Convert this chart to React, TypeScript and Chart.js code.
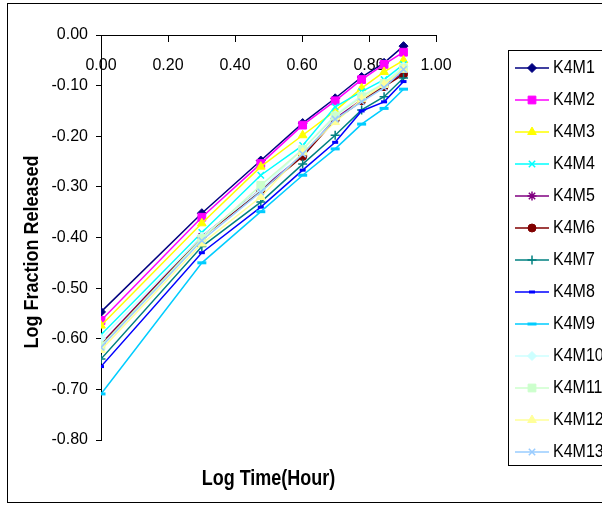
import { useEffect, useRef } from 'react';
import { Chart, registerables, PointElement } from 'chart.js';

Chart.register(...registerables);

const logTime = [0, 0.301, 0.477, 0.602, 0.699, 0.778, 0.845, 0.903];
const seriesNames = ['K4M1', 'K4M2', 'K4M3', 'K4M4', 'K4M5', 'K4M6', 'K4M7', 'K4M8', 'K4M9', 'K4M10', 'K4M11', 'K4M12', 'K4M13'];

const k4m1 = [-0.547, -0.352, -0.248, -0.174, -0.125, -0.083, -0.055, -0.022];
const k4m2 = [-0.564, -0.360, -0.254, -0.178, -0.130, -0.088, -0.058, -0.034];
const k4m3 = [-0.574, -0.372, -0.260, -0.198, -0.150, -0.105, -0.073, -0.050];
const k4m4 = [-0.592, -0.390, -0.277, -0.218, -0.142, -0.112, -0.088, -0.058];
const k4m5 = [-0.610, -0.398, -0.305, -0.238, -0.165, -0.128, -0.100, -0.075];
const k4m6 = [-0.612, -0.400, -0.308, -0.240, -0.168, -0.130, -0.102, -0.078];
const k4m7 = [-0.640, -0.418, -0.330, -0.255, -0.198, -0.148, -0.122, -0.085];
const k4m8 = [-0.655, -0.430, -0.340, -0.267, -0.212, -0.150, -0.132, -0.092];
const k4m9 = [-0.709, -0.450, -0.349, -0.277, -0.225, -0.176, -0.145, -0.107];
const k4m10 = [-0.600, -0.398, -0.305, -0.225, -0.158, -0.120, -0.095, -0.062];
const k4m11 = [-0.614, -0.402, -0.297, -0.226, -0.160, -0.122, -0.096, -0.066];
const k4m12 = [-0.622, -0.412, -0.320, -0.232, -0.172, -0.127, -0.098, -0.068];
const k4m13 = [-0.617, -0.406, -0.310, -0.235, -0.166, -0.132, -0.104, -0.068];

const seriesValues = [k4m1, k4m2, k4m3, k4m4, k4m5, k4m6, k4m7, k4m8, k4m9, k4m10, k4m11, k4m12, k4m13];

const xTickValues = [0, 0.2, 0.4, 0.6, 0.8, 1.0];
const yTickValues = [0, -0.1, -0.2, -0.3, -0.4, -0.5, -0.6, -0.7, -0.8];

const xTitle = 'Log Time(Hour)';
const yTitle = 'Log Fraction Released';

const FONT = '"Liberation Sans", Arial, sans-serif';

type Style = { color: string; pointStyle: string; radius: number; bw: number };
const styles: Style[] = [
  { color: '#000080', pointStyle: 'rectRot', radius: 4.5, bw: 1 },
  { color: '#FF00FF', pointStyle: 'rect', radius: 5.5, bw: 1 },
  { color: '#FFFF00', pointStyle: 'triangle', radius: 5, bw: 1 },
  { color: '#00FFFF', pointStyle: 'crossRot', radius: 4.5, bw: 1.5 },
  { color: '#800080', pointStyle: 'star', radius: 4.5, bw: 1.5 },
  { color: '#800000', pointStyle: 'circle', radius: 4, bw: 1 },
  { color: '#008080', pointStyle: 'cross', radius: 4.5, bw: 1.5 },
  { color: '#0000FF', pointStyle: 'line', radius: 3, bw: 3 },
  { color: '#00CCFF', pointStyle: 'line', radius: 4.5, bw: 3 },
  { color: '#CCFFFF', pointStyle: 'rectRot', radius: 4.5, bw: 1 },
  { color: '#CCFFCC', pointStyle: 'rect', radius: 5.5, bw: 1 },
  { color: '#FFFF99', pointStyle: 'triangle', radius: 5, bw: 1 },
  { color: '#99CCFF', pointStyle: 'crossRot', radius: 4.5, bw: 1.5 },
];

const decorPlugin = {
  id: 'decor',
  afterDraw(chart: any) {
    const ctx = chart.ctx as CanvasRenderingContext2D;
    ctx.save();
    // outer frame
    ctx.strokeStyle = '#000';
    ctx.lineWidth = 1;
    ctx.strokeRect(7.5, 3.5, 700, 499);

    // axis titles
    ctx.fillStyle = '#000';
    ctx.font = 'bold 18px ' + FONT;
    ctx.textAlign = 'center';
    ctx.textBaseline = 'middle';
    const area = chart.chartArea;
    ctx.save();
    ctx.translate((area.left + area.right) / 2, 479);
    ctx.scale(1, 1.2);
    ctx.fillText(xTitle, 0, 0);
    ctx.restore();
    ctx.save();
    ctx.translate(32, 252);
    ctx.rotate(-Math.PI / 2);
    ctx.scale(1, 1.15);
    ctx.fillText(yTitle, 0, 0);
    ctx.restore();

    // legend
    ctx.strokeStyle = '#000';
    ctx.lineWidth = 1;
    ctx.strokeRect(508.5, 50.5, 300, 415);
    const full = { left: 0, top: 0, right: 602, bottom: 505 };
    chart.data.datasets.forEach((ds: any, i: number) => {
      const y = 68 + i * 32;
      ctx.strokeStyle = ds.borderColor;
      ctx.lineWidth = 1.5;
      ctx.beginPath();
      ctx.moveTo(515, y);
      ctx.lineTo(549, y);
      ctx.stroke();
      const el: any = new PointElement({});
      el.x = 532;
      el.y = y;
      el.options = {
        pointStyle: ds.pointStyle,
        radius: ds.pointRadius,
        borderWidth: ds.pointBorderWidth,
        borderColor: ds.pointBorderColor,
        backgroundColor: ds.pointBackgroundColor,
        rotation: 0,
      };
      el.draw(ctx, full);
      ctx.fillStyle = '#000';
      ctx.font = '16px ' + FONT;
      ctx.textAlign = 'left';
      ctx.textBaseline = 'middle';
      ctx.save();
      ctx.translate(553, y);
      ctx.scale(1, 1.15);
      ctx.fillText(ds.label, 0, 0);
      ctx.restore();
    });
    ctx.restore();
  },
};

export default function App() {
  const ref = useRef<HTMLCanvasElement | null>(null);
  useEffect(() => {
    if (!ref.current) return;
    const datasets = seriesNames.map((name, i) => {
      const s = styles[i];
      return {
        label: name,
        data: logTime.map((x, j) => ({ x, y: seriesValues[i][j] })),
        borderColor: s.color,
        backgroundColor: s.color,
        borderWidth: 1.5,
        pointStyle: s.pointStyle,
        pointRadius: s.radius,
        pointBorderWidth: s.bw,
        pointBorderColor: s.color,
        pointBackgroundColor: s.color,
        tension: 0,
        order: seriesNames.length - i,
      };
    });
    const chart = new Chart(ref.current, {
      type: 'line',
      data: { datasets } as any,
      options: {
        animation: false,
        responsive: false,
        devicePixelRatio: 1,
        layout: { padding: { left: 0, top: 35, right: 166, bottom: 65 } },
        plugins: { legend: { display: false }, tooltip: { enabled: false }, title: { display: false } },
        scales: {
          x: {
            type: 'linear',
            position: { y: 0 } as any,
            min: 0,
            max: 1,
            afterBuildTicks: (s: any) => {
              s.ticks = xTickValues.map((v) => ({ value: v }));
            },
            ticks: {
              callback: (v: any) => Number(v).toFixed(2),
              color: '#000',
              font: { family: FONT, size: 16 },
              padding: 15,
              maxRotation: 0,
              autoSkip: false,
            },
            grid: { drawOnChartArea: false, drawTicks: true, tickLength: 6, color: '#000' },
            border: { display: true, color: '#000', width: 1 },
          },
          y: {
            type: 'linear',
            position: 'left',
            min: -0.8,
            max: 0,
            afterBuildTicks: (s: any) => {
              s.ticks = yTickValues.map((v) => ({ value: v }));
            },
            afterFit: (s: any) => {
              s.width = 101;
            },
            ticks: {
              callback: (v: any) => Number(v).toFixed(2),
              color: '#000',
              font: { family: FONT, size: 16 },
              padding: 8,
              autoSkip: false,
            },
            grid: { drawOnChartArea: false, drawTicks: true, tickLength: 5, color: '#000' },
            border: { display: true, color: '#000', width: 1 },
          },
        },
      } as any,
      plugins: [decorPlugin],
    });
    return () => chart.destroy();
  }, []);
  return (
    <div style={{ position: 'fixed', left: 0, top: 0, width: 602, height: 505, background: '#fff' }}>
      <canvas ref={ref} width={602} height={505} style={{ width: 602, height: 505 }} />
    </div>
  );
}
